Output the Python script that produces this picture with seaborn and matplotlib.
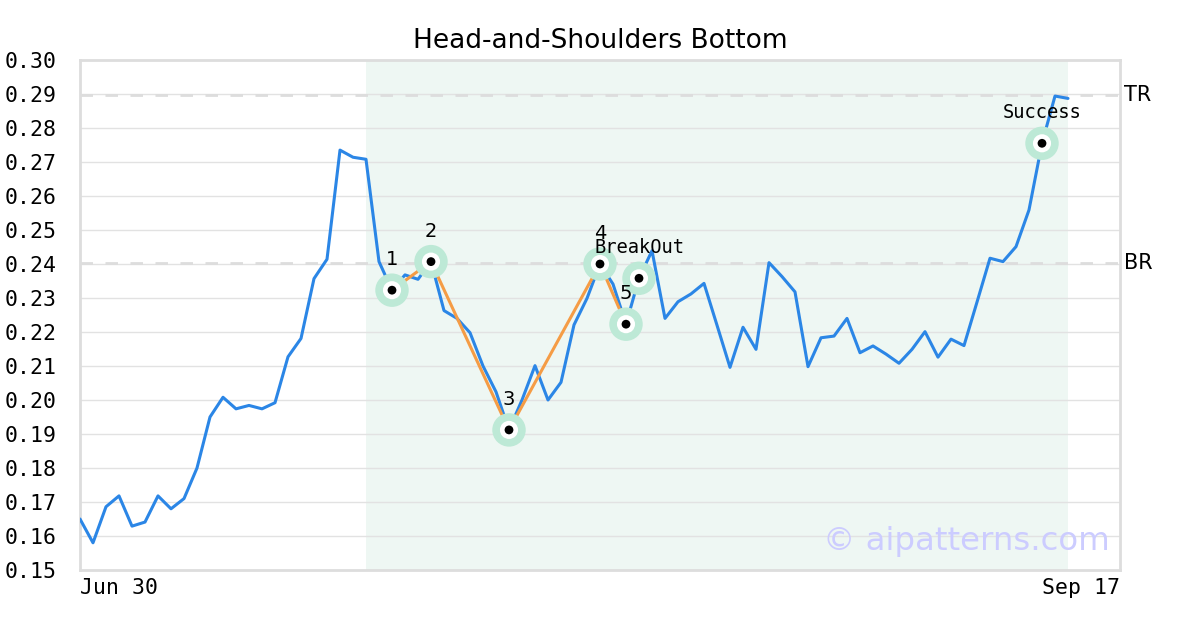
import numpy as np
import pandas as pd
import seaborn as sns
from matplotlib import pyplot as plt

# daily closes, Jun 30 onward
prices = [0.165, 0.158, 0.1686, 0.1718, 0.1629, 0.1641, 0.1718, 0.168, 0.171, 0.180,
          0.195, 0.2008, 0.1974, 0.1984, 0.1974, 0.1992, 0.2127, 0.2181, 0.2357, 0.2414,
          0.2735, 0.2714, 0.2708, 0.2407, 0.2323, 0.2368, 0.2355, 0.2407, 0.2263, 0.2240,
          0.2198, 0.210, 0.2024, 0.1912, 0.200, 0.2101, 0.200, 0.2052, 0.2221, 0.2299,
          0.240, 0.2341, 0.2223, 0.2358, 0.2439, 0.224, 0.2289, 0.2312, 0.2343, 0.222,
          0.2096, 0.2214, 0.2149, 0.2404, 0.2363, 0.2318, 0.2098, 0.2183, 0.2188, 0.2240,
          0.2139, 0.2159, 0.2135, 0.2108, 0.2149, 0.2201, 0.2126, 0.2179, 0.2160, 0.2288,
          0.2417, 0.2407, 0.2451, 0.2559, 0.2755, 0.2894, 0.2887]

pattern_idx = [24, 27, 33, 40, 42]
pattern_labels = ["1", "2", "3", "4", "5"]
breakout_idx = 43
success_idx = 74
pattern_start, pattern_end = 22, 76
br_level = 0.2402
tr_level = 0.2897
x_labels = ["Jun 30", "Sep 17"]
x_span = 80

df = pd.DataFrame({"day": np.arange(len(prices)), "price": prices})
pat = df.iloc[pattern_idx]
marks = df.iloc[pattern_idx + [breakout_idx, success_idx]]

sns.set_style("white")
plt.rcParams["font.family"] = ["DejaVu Sans"]
plt.rcParams["text.color"] = "black"
plt.rcParams["xtick.color"] = "black"
plt.rcParams["ytick.color"] = "black"

fig = plt.figure(figsize=(12, 6.3), dpi=100)
ax = fig.add_axes([80 / 1200, 1 - 570 / 630, 1040 / 1200, 510 / 630])

ax.axvspan(pattern_start, pattern_end, color="#eef7f3", zorder=0, lw=0)
for v in np.arange(0.15, 0.305, 0.01):
    ax.axhline(v, color="#e2e2e2", lw=1, zorder=1)
for lvl in (br_level, tr_level):
    ax.axhline(lvl, color="#dddddd", lw=2, dashes=(4.5, 4.5), zorder=1)

sns.lineplot(data=df, x="day", y="price", color="#2b86e6", lw=2.2, ax=ax, zorder=3)
sns.lineplot(data=pat, x="day", y="price", color="#f59c45", lw=2.2, ax=ax, zorder=4)

sns.scatterplot(data=marks, x="day", y="price", s=580, color="#bde9d6", edgecolor="none", ax=ax, zorder=5)
sns.scatterplot(data=marks, x="day", y="price", s=170, color="white", edgecolor="none", ax=ax, zorder=6)
sns.scatterplot(data=marks, x="day", y="price", s=40, color="black", edgecolor="none", ax=ax, zorder=7)

for i, lab in zip(pattern_idx, pattern_labels):
    ax.annotate(lab, (i, prices[i]), xytext=(0, 15), textcoords="offset points",
                ha="center", va="bottom", fontsize=14, zorder=8)
ax.annotate("BreakOut", (breakout_idx, prices[breakout_idx]), xytext=(0, 15), textcoords="offset points",
            ha="center", va="bottom", fontsize=13.5, family="DejaVu Sans Mono", zorder=8)
ax.annotate("Success", (success_idx, prices[success_idx]), xytext=(0, 15), textcoords="offset points",
            ha="center", va="bottom", fontsize=13.5, family="DejaVu Sans Mono", zorder=8)

ax.text(1.004, tr_level, "TR", transform=ax.get_yaxis_transform(), va="center", ha="left", fontsize=15)
ax.text(1.004, br_level, "BR", transform=ax.get_yaxis_transform(), va="center", ha="left", fontsize=15)
ax.text(0.99, 0.055, "© aipatterns.com", transform=ax.transAxes, ha="right", va="center",
        fontsize=23.3, color="#ccccff", zorder=9)

ax.set_xlim(0, x_span)
ax.set_ylim(0.15, 0.30)
ax.set_yticks(np.arange(0.15, 0.305, 0.01))
ax.set_yticklabels([f"{v:.2f}" for v in np.arange(0.15, 0.305, 0.01)], family="DejaVu Sans Mono", fontsize=15.5)
ax.set_xticks([0, x_span])
ax.set_xticklabels(x_labels, family="DejaVu Sans Mono", fontsize=15.5)
xt = ax.get_xticklabels()
xt[0].set_ha("left")
xt[1].set_ha("right")
ax.tick_params(axis="both", length=0)
ax.tick_params(axis="y", pad=17)
ax.tick_params(axis="x", pad=6)
ax.set_xlabel("")
ax.set_ylabel("")
for sp in ax.spines.values():
    sp.set_color("#dddddd")
    sp.set_linewidth(2)
ax.set_title("Head-and-Shoulders Bottom", fontsize=19, pad=9)

plt.savefig("out.png", dpi=100)
